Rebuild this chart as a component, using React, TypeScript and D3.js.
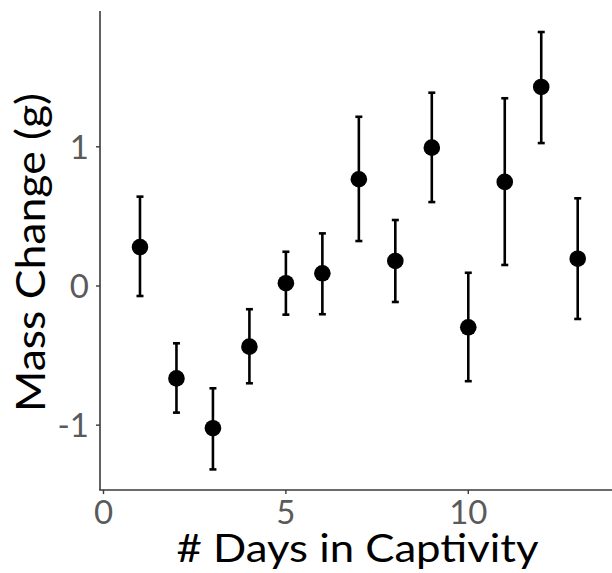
import React from "react";
import * as d3 from "d3";

const days = [1, 2, 3, 4, 5, 6, 7, 8, 9, 10, 11, 12, 13];
const meanChange = [0.28, -0.664, -1.022, -0.436, 0.02, 0.091, 0.767, 0.18, 0.994, -0.297, 0.748, 1.43, 0.196];
const upperCI = [0.642, -0.412, -0.735, -0.167, 0.246, 0.378, 1.216, 0.474, 1.389, 0.095, 1.349, 1.825, 0.63];
const lowerCI = [-0.072, -0.91, -1.318, -0.699, -0.206, -0.203, 0.323, -0.115, 0.603, -0.684, 0.151, 1.027, -0.237];
const xTicks = [0, 5, 10];
const yTicks = [-1, 0, 1];

const W = 612;
const H = 573;
const FONT = "Lato, 'Open Sans', sans-serif";

export default function App() {
  const x = d3.scaleLinear().domain([-0.096, 13.94]).range([100, 612]);
  const y = d3.scaleLinear().domain([-1.466, 1.976]).range([490, 11]);
  const axisColor = "#3a3a3a";
  const tickColor = "#5a5a5a";

  return (
    <svg width={W} height={H} style={{ position: "absolute", left: 0, top: 0, background: "#fff" }}>
      {/* axes */}
      <line x1={100} x2={100} y1={y.range()[1]} y2={y.range()[0]} stroke={axisColor} strokeWidth={1.6} />
      <line x1={x.range()[0] - 0.8} x2={x.range()[1]} y1={490} y2={490} stroke={axisColor} strokeWidth={1.6} />
      {yTicks.map((t) => (
        <g key={"y" + t}>
          <line x1={96} x2={100} y1={y(t)} y2={y(t)} stroke={axisColor} strokeWidth={1.4} />
          <text x={89} y={y(t)} dy="0.36em" textAnchor="end" fontFamily={FONT} fontSize={33} fill={tickColor}>
            {t}
          </text>
        </g>
      ))}
      {xTicks.map((t) => (
        <g key={"x" + t}>
          <line x1={x(t)} x2={x(t)} y1={490} y2={494} stroke={axisColor} strokeWidth={1.4} />
          <text x={x(t)} y={524} textAnchor="middle" fontFamily={FONT} fontSize={33} fill={tickColor}>
            {t}
          </text>
        </g>
      ))}
      {/* error bars */}
      {days.map((d, i) => (
        <g key={"e" + d} stroke="#000" strokeWidth={2.6}>
          <line x1={x(d)} x2={x(d)} y1={y(upperCI[i])} y2={y(lowerCI[i])} />
          <line x1={x(d) - 3.5} x2={x(d) + 3.5} y1={y(upperCI[i])} y2={y(upperCI[i])} />
          <line x1={x(d) - 3.5} x2={x(d) + 3.5} y1={y(lowerCI[i])} y2={y(lowerCI[i])} />
        </g>
      ))}
      {days.map((d, i) => (
        <circle key={"p" + d} cx={x(d)} cy={y(meanChange[i])} r={8.3} fill="#000" />
      ))}
      {/* titles */}
      <text x={357.5} y={562} textAnchor="middle" fontFamily={FONT} fontSize={38} fill="#000"
        textLength={362} lengthAdjust="spacingAndGlyphs">
        # Days in Captivity
      </text>
      <text transform={`translate(45,252.5) rotate(-90)`} textAnchor="middle" fontFamily={FONT} fontSize={41} fill="#000"
        textLength={319} lengthAdjust="spacingAndGlyphs">
        Mass Change (g)
      </text>
    </svg>
  );
}
